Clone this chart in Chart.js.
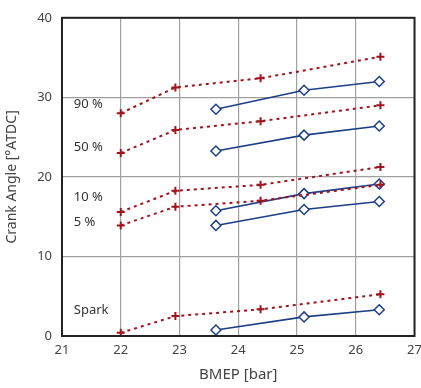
<!DOCTYPE html>
<html>
<head>
<meta charset="utf-8">
<script src="https://cdn.jsdelivr.net/npm/chart.js@4/dist/chart.umd.min.js"></script>
<style>
  html, body { margin: 0; padding: 0; background: #fff; }
  #wrap { width: 421px; height: 388px; position: relative; }
</style>
</head>
<body>
<div id="wrap"><canvas id="c"></canvas></div>
<script>
// measured (red, dashed) and computed (blue, solid) series
const bmepRed = [22.0, 22.93, 24.38, 26.42];
const bmepBlue = [23.62, 25.12, 26.4];

const red90 = [28.0, 31.25, 32.4, 35.1];
const red50 = [23.0, 25.9, 27.0, 29.0];
const red10 = [15.6, 18.25, 19.0, 21.25];
const red5 = [13.9, 16.25, 17.0, 19.0];
const redSpark = [0.4, 2.5, 3.35, 5.25];

const blue90 = [28.5, 30.9, 32.0];
const blue50 = [23.25, 25.25, 26.4];
const blue10 = [15.75, 17.9, 19.1];
const blue5 = [13.9, 15.9, 16.9];
const blueSpark = [0.75, 2.4, 3.3];

const seriesLabels = ['90 %', '50 %', '10 %', '5 %', 'Spark'];
const labelX = [21.2, 21.2, 21.2, 21.2, 21.2];
const labelY = [29.1, 23.75, 17.4, 14.25, 3.25];

const RED = '#a0141e';
const BLUE = '#1c3f86';

const pts = (xs, ys) => ys.map((y, i) => ({ x: xs[i], y }));

const redSets = [red90, red50, red10, red5, redSpark].map(ys => ({
  data: pts(bmepRed, ys),
  borderColor: RED,
  backgroundColor: RED,
  borderWidth: 2,
  borderDash: [3, 4],
  pointStyle: 'cross',
  pointRadius: 4,
  pointBorderWidth: 2,
  pointBorderColor: RED,
}));

const blueSets = [blue90, blue50, blue10, blue5, blueSpark].map(ys => ({
  data: pts(bmepBlue, ys),
  borderColor: BLUE,
  backgroundColor: '#fff',
  borderWidth: 1.6,
  pointStyle: 'rectRot',
  pointRadius: 5,
  pointBorderWidth: 1.5,
  pointBorderColor: BLUE,
  pointBackgroundColor: '#fff',
}));

const frame = {
  id: 'frame',
  afterDatasetsDraw(chart) {
    const { ctx, chartArea: a, scales } = chart;
    ctx.save();
    ctx.strokeStyle = '#222';
    ctx.lineWidth = 2;
    ctx.strokeRect(a.left, a.top, a.right - a.left, a.bottom - a.top);
    ctx.fillStyle = '#333';
    ctx.font = '13px "Noto Sans"';
    ctx.textBaseline = 'middle';
    seriesLabels.forEach((t, i) => {
      ctx.fillText(t, scales.x.getPixelForValue(labelX[i]), scales.y.getPixelForValue(labelY[i]));
    });
    ctx.restore();
  }
};

const tickFont = { family: 'Noto Sans', size: 13 };

new Chart(document.getElementById('c'), {
  type: 'line',
  data: { datasets: [...redSets, ...blueSets] },
  options: {
    responsive: true,
    maintainAspectRatio: false,
    animation: false,
    layout: { padding: { top: 16, right: 1, left: 0, bottom: 0 } },
    plugins: { legend: { display: false }, tooltip: { enabled: false } },
    scales: {
      x: {
        type: 'linear',
        min: 21, max: 27,
        ticks: { stepSize: 1, color: '#444', font: tickFont, padding: 6 },
        grid: { color: '#a0a0a0', lineWidth: 1.2, drawTicks: false },
        border: { display: false },
        title: { display: true, text: 'BMEP [bar]', color: '#444', font: { family: 'Noto Sans', size: 15 }, padding: { top: 3 } },
        afterFit(s) { s.height = 52; s.paddingRight = 0; s.paddingLeft = 0; },
      },
      y: {
        min: 0, max: 40,
        ticks: { stepSize: 10, color: '#444', font: tickFont, padding: 10 },
        grid: { color: '#a0a0a0', lineWidth: 1.2, drawTicks: false },
        border: { display: false },
        title: { display: true, text: 'Crank Angle [°ATDC]', color: '#444', font: { family: 'Noto Sans', size: 14 } },
        afterFit(s) { s.width = 62; },
      },
    },
  },
  plugins: [frame],
});
</script>
</body>
</html>
